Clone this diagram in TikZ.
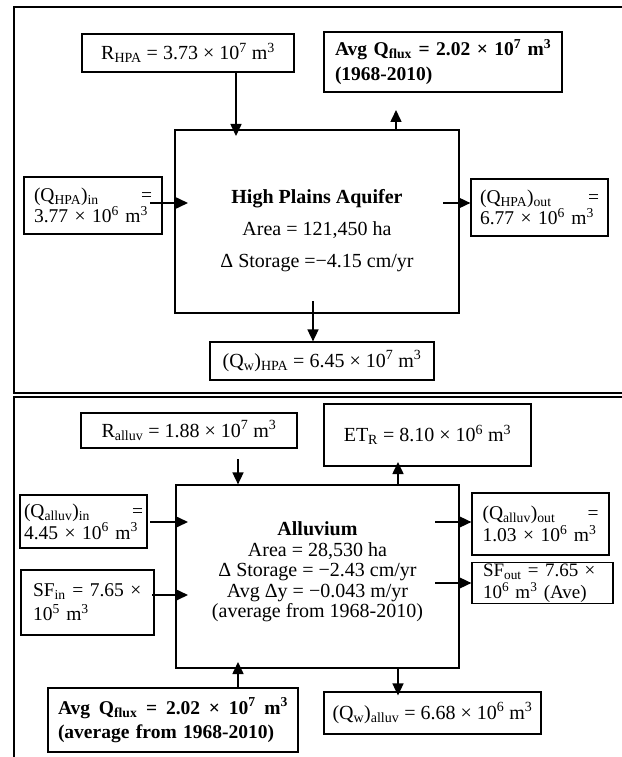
\documentclass[tikz,border=0pt]{standalone}
\usepackage{fontspec}
\setmainfont{Liberation Serif}
\usetikzlibrary{arrows.meta}
\tikzset{
  every node/.style={font=\fontsize{20}{23}\selectfont, inner sep=0pt},
  frame/.style={draw, line width=1.5pt},
  box/.style={draw, line width=1.2pt, inner sep=0pt},
  arr/.style={line width=1.6pt, -{Triangle[length=12pt,width=11pt]}},
}
\newcommand{\sub}[1]{\textsubscript{#1}}
\newcommand{\sups}[1]{\textsuperscript{#1}}
\begin{document}
\begin{tikzpicture}[x=1pt,y=-1pt]
\useasboundingbox (0,0) rectangle (621,757);
% frames
\draw[frame] (14,7) rectangle (640,393);
\draw[frame] (14,397) rectangle (640,780);

% ---------- High Plains Aquifer ----------
\node[box, minimum width=212pt, minimum height=38pt] (rhpa) at (188,53)
  {R\sub{HPA} = 3.73 × 10\sups{7} m\sups{3}};
\node[box, minimum width=238pt, minimum height=60pt, text width=216pt, align=left,
      font=\fontsize{19.5}{25}\selectfont\bfseries] (qft) at (443,62)
  {\mbox{Avg Q\sub{flux} = 2.02 × 10\sups{7} m\sups{3}}\\(1968-2010)};
\node[box, minimum width=284pt, minimum height=183pt] (hpa) at (317,221.5) {};
\node[align=center, font=\fontsize{20}{23}\selectfont] (hpatext) at (317,231)
  {\textbf{High Plains Aquifer}\\[9pt]Area = 121,450 ha\\[9pt]Δ Storage =−4.15 cm/yr};
\node[box, minimum width=138pt, minimum height=57pt, text width=118pt, align=left,
      font=\fontsize{19.5}{20.5}\selectfont] (qin) at (93,205.5)
  {(Q\sub{HPA})\sub{in}\hfill=\\\mbox{3.77 × 10\sups{6} m\sups{3}}};
\node[box, minimum width=137pt, minimum height=57pt, text width=119pt, align=left,
      font=\fontsize{19.5}{20.5}\selectfont] (qout) at (539.5,207.5)
  {(Q\sub{HPA})\sub{out}\hfill=\\\mbox{6.77 × 10\sups{6} m\sups{3}}};
\node[box, minimum width=224pt, minimum height=38pt] (qwh) at (322,361)
  {(Q\sub{w})\sub{HPA} = 6.45 × 10\sups{7} m\sups{3}};

\coordinate (t1) at (236,136);
\coordinate (t2) at (396,110);
\coordinate (s3) at (150,203);
\coordinate (t3) at (188,203);
\coordinate (s4) at (443,203);
\coordinate (s5) at (313,301);
\draw[arr] (rhpa.south -| t1) -- (t1);
\draw[arr] (hpa.north -| t2) -- (t2);
\draw[arr] (s3) -- (t3);
\draw[arr] (s4) -- (qout.west |- s4);
\draw[arr] (s5) -- (qwh.north -| s5);

% ---------- Alluvium ----------
\node[box, minimum width=216pt, minimum height=35pt] (ralv) at (189,430.5)
  {R\sub{alluv} = 1.88 × 10\sups{7} m\sups{3}};
\node[box, minimum width=207pt, minimum height=62pt] (etr) at (427.5,435)
  {ET\sub{R} = 8.10 × 10\sups{6} m\sups{3}};
\node[box, minimum width=283pt, minimum height=183pt] (alv) at (317.5,576.5) {};
\node[align=center, font=\fontsize{20}{20.5}\selectfont] (alvtext) at (317.5,572)
  {\textbf{Alluvium}\\Area = 28,530 ha\\Δ Storage = −2.43 cm/yr\\Avg Δy = −0.043 m/yr\\(average from 1968-2010)};
\node[box, minimum width=127pt, minimum height=53pt, text width=119pt, align=left,
      font=\fontsize{19.5}{22}\selectfont] (qain) at (83.5,521.5)
  {(Q\sub{alluv})\sub{in}\hfill=\\\mbox{4.45 × 10\sups{6} m\sups{3}}};
\node[box, minimum width=137pt, minimum height=62pt, text width=116pt, align=left,
      font=\fontsize{19.5}{22}\selectfont] (qaout) at (540.5,524)
  {(Q\sub{alluv})\sub{out}\hfill=\\\mbox{1.03 × 10\sups{6} m\sups{3}}};
\node[box, minimum width=133pt, minimum height=65pt, text width=109pt, align=left,
      font=\fontsize{19.5}{24}\selectfont] (sfin) at (87.5,602.5)
  {\mbox{SF\sub{in} = 7.65 ×}\\\mbox{10\sups{5} m\sups{3}}};
\node[box, minimum width=141pt, minimum height=41pt, text width=119pt, align=left,
      font=\fontsize{19}{21.5}\selectfont] (sfout) at (542.5,583)
  {\mbox{SF\sub{out} = 7.65 ×}\\\mbox{10\sups{6} m\sups{3} (Ave)}};
\node[box, minimum width=217pt, minimum height=42pt] (qwa) at (432.5,713)
  {(Q\sub{w})\sub{alluv} = 6.68 × 10\sups{6} m\sups{3}};
\node[box, minimum width=250pt, minimum height=64pt, text width=230pt, align=left,
      font=\fontsize{19.5}{24}\selectfont\bfseries] (qfb) at (173,720)
  {Avg\hfill Q\sub{flux}\hfill=\hfill 2.02\hfill×\hfill 10\sups{7}\hfill m\sups{3}\\\mbox{(average from 1968-2010)}};

\coordinate (s6) at (238,459);
\coordinate (t7) at (398,462);
\coordinate (s8) at (150,522);
\coordinate (t8) at (188,522);
\coordinate (s9) at (435,522);
\coordinate (s10) at (152,595);
\coordinate (t10) at (188,595);
\coordinate (s11) at (435,583);
\coordinate (t12) at (238,662);
\coordinate (s13) at (398,668);
\draw[arr] (s6) -- (alv.north -| s6);
\draw[arr] (alv.north -| t7) -- (t7);
\draw[arr] (s8) -- (t8);
\draw[arr] (s9) -- (qaout.west |- s9);
\draw[arr] (s10) -- (t10);
\draw[arr] (s11) -- (sfout.west |- s11);
\draw[arr] (qfb.north -| t12) -- (t12);
\draw[arr] (alv.south -| s13) -- ([yshift=-4pt]qwa.north -| s13);
\end{tikzpicture}
\end{document}
